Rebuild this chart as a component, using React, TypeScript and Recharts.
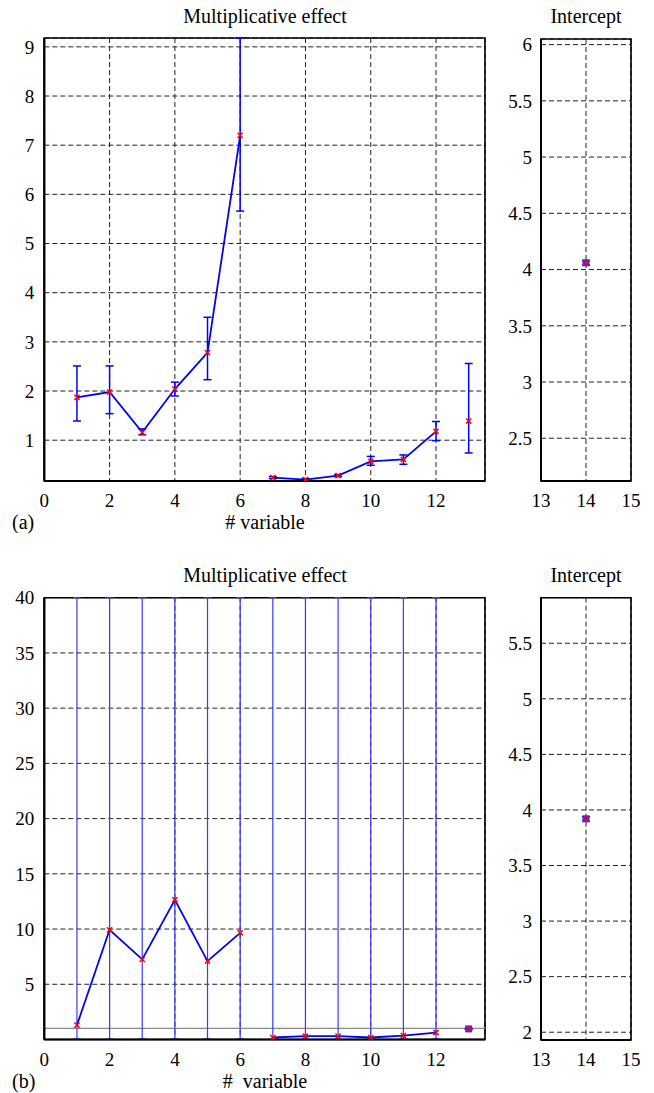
import React from "react";
import {
  ComposedChart,
  Line,
  XAxis,
  YAxis,
  CartesianGrid,
  ErrorBar,
  ReferenceArea,
  ReferenceLine,
} from "recharts";

// ---------- data ----------
const variables = [1, 2, 3, 4, 5, 6, 7, 8, 9, 10, 11, 12, 13];

// panel (a)
const effectA = [1.87, 1.98, 1.16, 2.04, 2.78, 7.2, 0.24, 0.2, 0.28, 0.57, 0.61, 1.18, 1.39];
const lowA = [1.39, 1.54, 1.11, 1.9, 2.23, 5.66, 0.22, 0.18, 0.26, 0.49, 0.51, 0.99, 0.74];
const highA = [2.51, 2.51, 1.23, 2.18, 3.5, 9.18, 0.26, 0.22, 0.3, 0.67, 0.7, 1.38, 2.56];
const interceptA = 4.06;
const interceptLowA = 4.04;
const interceptHighA = 4.08;

// panel (b)
const effectB = [1.3, 9.93, 7.25, 12.65, 7.09, 9.66, 0.18, 0.3, 0.3, 0.18, 0.36, 0.63, 0.96];
const lowB = [0.05, 0.05, 0.05, 0.05, 0.05, 0.05, 0.05, 0.05, 0.05, 0.05, 0.05, 0.05, 0.93];
const highB = [40, 40, 40, 40, 40, 40, 40, 40, 40, 40, 40, 40, 0.99];
const interceptB = 3.92;
const interceptLowB = 3.9;
const interceptHighB = 3.94;

// axes
const xTicksLeft = [0, 2, 4, 6, 8, 10, 12];
const yTicksA = [1, 2, 3, 4, 5, 6, 7, 8, 9];
const yTicksB = [5, 10, 15, 20, 25, 30, 35, 40];
const xTicksRight = [13, 14, 15];
const yTicksInterceptA = [2.5, 3, 3.5, 4, 4.5, 5, 5.5, 6];
const yTicksInterceptB = [2, 2.5, 3, 3.5, 4, 4.5, 5, 5.5];

const titleLeft = "Multiplicative effect";
const titleRight = "Intercept";

// ---------- helpers ----------
type Row = { x: number; v: number; err: [number, number] };
const buildRows = (idx: number[], vals: number[], lo: number[], hi: number[]): Row[] =>
  idx.map((i) => ({
    x: variables[i],
    v: vals[i],
    err: [vals[i] - lo[i], hi[i] - vals[i]],
  }));

const seg1 = [0, 1, 2, 3, 4, 5];
const seg2 = [6, 7, 8, 9, 10, 11];
const seg3 = [12];

const FONT = "Liberation Serif, Tinos, Times New Roman, DejaVu Serif, Noto Serif, serif";
const tickStyle = { fontFamily: FONT, fontSize: 19, fill: "#000" };
const BLUE = "#0000ff";
const RED = "#ff0000";

const XMark = (props: any) => {
  const { cx, cy, index } = props;
  if (cx == null || cy == null) return <g key={`n${index}`} />;
  const s = 2.6;
  return (
    <g key={`m${index}`}>
      <line x1={cx - s} y1={cy - s} x2={cx + s} y2={cy + s} stroke={RED} strokeWidth={1.5} />
      <line x1={cx - s} y1={cy + s} x2={cx + s} y2={cy - s} stroke={RED} strokeWidth={1.5} />
    </g>
  );
};

const SquareMark = (props: any) => {
  const { cx, cy, index } = props;
  if (cx == null || cy == null) return <g key={`n${index}`} />;
  const s = 2.6;
  return (
    <g key={`q${index}`}>
      <rect x={cx - 3.5} y={cy - 3.5} width={7} height={7} fill="#3030ff" />
      <line x1={cx - s} y1={cy - s} x2={cx + s} y2={cy + s} stroke={RED} strokeWidth={1.5} />
      <line x1={cx - s} y1={cy + s} x2={cx + s} y2={cy - s} stroke={RED} strokeWidth={1.5} />
    </g>
  );
};

const textStyle = (left: number, top: number, extra: React.CSSProperties = {}): React.CSSProperties => ({
  position: "absolute",
  left,
  top,
  fontFamily: FONT,
  fontSize: 20,
  lineHeight: "20px",
  color: "#000",
  whiteSpace: "pre",
  ...extra,
});

const Centered = ({ cx, top, children }: { cx: number; top: number; children: React.ReactNode }) => (
  <div style={textStyle(cx - 150, top, { width: 300, textAlign: "center" })}>{children}</div>
);

// ---------- panels ----------
type LeftProps = {
  top: number;
  marginTop: number;
  xHeight: number;
  yDomain: [number, number];
  yTicks: number[];
  vals: number[];
  lo: number[];
  hi: number[];
  variant: "a" | "b";
};

const LeftPanel = ({ top, marginTop, xHeight, yDomain, yTicks, vals, lo, hi, variant }: LeftProps) => {
  const d1 = buildRows(seg1, vals, lo, hi);
  const d2 = buildRows(seg2, vals, lo, hi);
  const d3 = buildRows(seg3, vals, lo, hi);
  const errColor = variant === "a" ? BLUE : "#3a3aff";
  const errWidth = variant === "a" ? 1.5 : 1.2;
  return (
    <div style={{ position: "absolute", left: 0, top }}>
      <ComposedChart width={500} height={530} margin={{ top: marginTop, right: 15, bottom: 0, left: 0 }}>
        <CartesianGrid stroke="#222" strokeDasharray="5 3" strokeWidth={1} />
        <XAxis
          type="number"
          dataKey="x"
          domain={[0, 13.5]}
          ticks={xTicksLeft}
          allowDataOverflow
          height={xHeight}
          tick={tickStyle}
          tickLine={false}
          tickSize={6}
          tickMargin={7}
          axisLine={{ stroke: "#000", strokeWidth: 2 }}
        />
        <YAxis
          type="number"
          domain={yDomain}
          ticks={yTicks}
          allowDataOverflow
          width={44.3}
          tick={tickStyle}
          tickLine={false}
          tickSize={6}
          tickMargin={4}
          axisLine={{ stroke: "#000", strokeWidth: 2.2 }}
        />
        {variant === "b" && <ReferenceLine y={1} stroke="#8a8a8a" strokeWidth={1.3} />}
        <Line
          data={d1}
          dataKey="v"
          stroke={BLUE}
          strokeWidth={1.8}
          dot={XMark}
          activeDot={false}
          isAnimationActive={false}
        >
          <ErrorBar dataKey="err" width={4} stroke={errColor} strokeWidth={errWidth} direction="y" />
        </Line>
        <Line
          data={d2}
          dataKey="v"
          stroke={BLUE}
          strokeWidth={1.8}
          dot={XMark}
          activeDot={false}
          isAnimationActive={false}
        >
          <ErrorBar dataKey="err" width={4} stroke={errColor} strokeWidth={errWidth} direction="y" />
        </Line>
        <Line
          data={d3}
          dataKey="v"
          stroke={BLUE}
          strokeWidth={1.8}
          dot={variant === "a" ? XMark : SquareMark}
          activeDot={false}
          isAnimationActive={false}
        >
          <ErrorBar dataKey="err" width={4} stroke={BLUE} strokeWidth={1.5} direction="y" />
        </Line>
        <ReferenceArea
          x1={0}
          x2={13.5}
          y1={yDomain[0]}
          y2={yDomain[1]}
          fill="none"
          fillOpacity={0}
          stroke="#000"
          strokeWidth={1.6}
          ifOverflow="visible"
        />
      </ComposedChart>
    </div>
  );
};

type RightProps = {
  top: number;
  marginTop: number;
  xHeight: number;
  yDomain: [number, number];
  yTicks: number[];
  value: number;
  lo: number;
  hi: number;
};

const RightPanel = ({ top, marginTop, xHeight, yDomain, yTicks, value, lo, hi }: RightProps) => {
  const data = [{ x: 14, v: value, err: [value - lo, hi - value] }];
  return (
    <div style={{ position: "absolute", left: 490, top }}>
      <ComposedChart width={150} height={530} margin={{ top: marginTop, right: 9, bottom: 0, left: 0 }}>
        <CartesianGrid stroke="#222" strokeDasharray="5 3" strokeWidth={1} />
        <XAxis
          type="number"
          dataKey="x"
          domain={[13, 15]}
          ticks={xTicksRight}
          allowDataOverflow
          height={xHeight}
          tick={tickStyle}
          tickLine={false}
          tickSize={6}
          tickMargin={7}
          axisLine={{ stroke: "#000", strokeWidth: 2 }}
          interval={0}
        />
        <YAxis
          type="number"
          domain={yDomain}
          ticks={yTicks}
          allowDataOverflow
          width={51}
          tick={tickStyle}
          tickLine={false}
          tickSize={6}
          tickMargin={3}
          axisLine={{ stroke: "#000", strokeWidth: 2 }}
          interval={0}
        />
        <Line
          data={data}
          dataKey="v"
          stroke={BLUE}
          strokeWidth={1.5}
          dot={SquareMark}
          activeDot={false}
          isAnimationActive={false}
        >
          <ErrorBar dataKey="err" width={4} stroke={BLUE} strokeWidth={1.5} direction="y" />
        </Line>
        <ReferenceArea
          x1={13}
          x2={15}
          y1={yDomain[0]}
          y2={yDomain[1]}
          fill="none"
          fillOpacity={0}
          stroke="#000"
          strokeWidth={1.6}
          ifOverflow="visible"
        />
      </ComposedChart>
    </div>
  );
};

export default function App() {
  return (
    <div
      style={{
        position: "absolute",
        left: 0,
        top: 0,
        width: 654,
        height: 1093,
        background: "#fff",
        overflow: "hidden",
      }}
    >
      {/* (a) */}
      <LeftPanel
        top={0}
        marginTop={38}
        xHeight={49}
        yDomain={[0.17, 9.18]}
        yTicks={yTicksA}
        vals={effectA}
        lo={lowA}
        hi={highA}
        variant="a"
      />
      <RightPanel
        top={0}
        marginTop={39}
        xHeight={49}
        yDomain={[2.12, 6.05]}
        yTicks={yTicksInterceptA}
        value={interceptA}
        lo={interceptLowA}
        hi={interceptHighA}
      />
      <Centered cx={265} top={6}>{titleLeft}</Centered>
      <Centered cx={586} top={6}>{titleRight}</Centered>
      <Centered cx={265} top={512}>{"# variable"}</Centered>
      <div style={textStyle(12, 512)}>(a)</div>

      {/* (b) */}
      <LeftPanel
        top={560}
        marginTop={37.7}
        xHeight={50.5}
        yDomain={[0, 40]}
        yTicks={yTicksB}
        vals={effectB}
        lo={lowB}
        hi={highB}
        variant="b"
      />
      <RightPanel
        top={560}
        marginTop={37.7}
        xHeight={50}
        yDomain={[1.93, 5.91]}
        yTicks={yTicksInterceptB}
        value={interceptB}
        lo={interceptLowB}
        hi={interceptHighB}
      />
      <Centered cx={265} top={565}>{titleLeft}</Centered>
      <Centered cx={586} top={565}>{titleRight}</Centered>
      <Centered cx={265} top={1071}>{"#  variable"}</Centered>
      <div style={textStyle(12, 1071)}>(b)</div>
    </div>
  );
}
